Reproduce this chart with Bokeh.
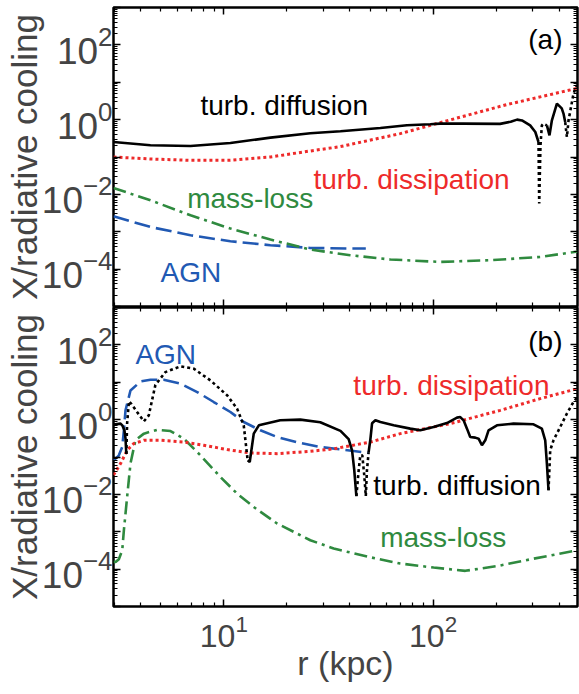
import numpy as np
from bokeh.plotting import figure
from bokeh.layouts import column
from bokeh.models import FixedTicker, LogAxis, ColumnDataSource, Range1d
from bokeh.core.properties import value
from bokeh.embed import file_html
from bokeh.resources import INLINE

FONT = "Liberation Sans"
RED = "#ee2a2a"
GREEN = "#2f8a3f"
BLUE = "#2159b3"

X_RANGE = (2.97, 490.0)
Y_RANGE = (1e-5, 1e3)

# ---------------- panel (a) ----------------
# turbulent diffusion: negative values are drawn dotted as |value|
a_diff_r = [2.97, 4.46, 6.93, 10.75, 16.7, 25.9, 36.1, 56.0, 75.0, 97.0, 108, 139, 209,
            235, 252, 266, 291, 308, 319, 321.5, 326, 331, 337, 350, 360, 369.7, 390.6,
            412, 420, 428, 436, 444, 469, 487]
a_diff_v = [0.252, 0.206, 0.197, 0.237, 0.330, 0.430, 0.487, 0.596, 0.704, 0.749, 0.782,
            0.782, 0.77, 0.88, 1.0, 0.95, 0.70, 0.466, 0.252, -0.0057, -0.2, -0.70, -0.78,
            -0.70, 0.38, 0.958, 2.68, 2.0, 1.45, 0.86, -0.343, -0.958, -4.96, -8.5]
a_diss_r = [2.97, 4.46, 6.93, 10.75, 16.7, 25.9, 36.1, 69.7, 108, 225, 490]
a_diss_v = [0.1, 0.0885, 0.0816, 0.0816, 0.1, 0.145, 0.19, 0.422, 0.831, 2.52, 6.9]
a_mass_r = [2.97, 4.46, 6.93, 10.75, 16.7, 25.9, 40.2, 62.5, 108, 188, 325, 490]
a_mass_v = [0.0148, 0.00695, 0.00276, 0.00122, 6.19e-4, 3.34e-4, 2.35e-4, 1.81e-4,
            1.56e-4, 1.73e-4, 2.12e-4, 2.95e-4]
a_agn_r = [2.97, 4.46, 6.93, 10.75, 16.7, 25.9, 40.2, 47.7]
a_agn_v = [0.0026, 0.00134, 8.05e-4, 5.57e-4, 4.36e-4, 3.69e-4, 3.56e-4, 3.56e-4]

a_note_text = ["turb. diffusion", "turb. dissipation", "mass-loss", "AGN", "(a)"]
a_note_r = [7.73, 26.8, 6.68, 4.98, 285.0]
a_note_v = [2.41, 0.0254, 0.00754, 8.3e-5, 136.0]
a_note_color = ["black", RED, GREEN, BLUE, "black"]

# ---------------- panel (b) ----------------
b_diff_r = [2.97, 3.21, 3.27, 3.35, 3.39, 3.42, 3.45, 3.52, 3.62, 3.85, 4.15, 4.38, 4.46,
            4.71, 5.26, 6.20, 7.18, 8.63, 10.37, 11.57, 12.45, 13.0, 13.3, 13.9, 14.7,
            18.6, 23.2, 28.9, 36.1, 39.5, 41.0, 42.0, 43.0, 44.1, 44.9, 45.9, 46.9, 47.7,
            48.3, 49.2, 50.1, 51.1, 53.0, 56.0, 64.8, 77.8, 86.9, 100.6, 116.5, 130.1,
            134.9, 139.9, 145.2, 150.5, 159.1, 165.0, 171.2, 177.6, 184.1, 202.0, 242.3,
            302.0, 331.0, 343.5, 349.9, 356.2, 362.9, 376.3, 405.0, 435.9, 468.8, 490.0]
b_diff_v = [0.735, 0.782, 0.704, 0.518, 0.31, 0.12, -0.8, -3.1, -2.6, -1.6, -0.9, -1.3,
            -2.1, -8.5, -18.7, -26.6, -23.1, -11.2, -4.47, -1.97, -0.704, -0.0816, 0.0735,
            0.422, 0.704, 0.958, 1.0, 0.85, 0.5, 0.3, 0.15, 0.045, 0.009, -0.044, -0.111,
            -0.111, -0.0324, -0.009, -0.044, -0.134, 0.28, 0.796, 0.958, 0.863, 0.704,
            0.574, 0.518, 0.634, 0.811, 1.13, 1.17, 0.958, 0.574, 0.343, 0.33, 0.31, 0.206,
            0.28, 0.518, 0.704, 0.782, 0.749, 0.574, 0.28, 0.0667, 0.0129, -0.151, -0.28,
            -0.634, -1.45, -2.96, -4.02]
b_diss_r = [2.97, 3.21, 3.45, 3.71, 4.15, 4.98, 6.44, 8.02, 10.37, 13.4, 17.97, 25.9,
            33.5, 40.2, 50.1, 69.7, 120.8, 209.4, 325.0, 490.0]
b_diss_v = [0.033, 0.0667, 0.151, 0.228, 0.28, 0.28, 0.252, 0.206, 0.158, 0.128, 0.123,
            0.142, 0.165, 0.2, 0.25, 0.422, 0.782, 1.77, 3.64, 6.74]
b_mass_r = [2.97, 3.04, 3.15, 3.27, 3.33, 3.45, 3.58, 3.78, 4.15, 4.80, 5.56, 6.44, 7.73,
            9.63, 11.57, 13.9, 17.97, 22.4, 25.9, 33.5, 49.2, 69.7, 100.6, 142.5, 209.4,
            302.0, 490.0]
b_mass_v = [1.56e-4, 1.56e-4, 1.84e-4, 3.2e-4, 1.1e-3, 8.5e-3, 0.0667, 0.28, 0.422,
            0.534, 0.496, 0.31, 0.111, 0.0292, 0.0105, 0.0046, 0.00166, 8.95e-4, 5.93e-4,
            3.56e-4, 2.12e-4, 1.41e-4, 1.1e-4, 9.0e-5, 1.25e-4, 1.9e-4, 3.2e-4]
b_agn_r = [2.97, 3.09, 3.15, 3.27, 3.33, 3.39, 3.58, 4.0, 4.46, 5.16, 6.20, 7.46, 8.95,
           10.75, 12.45, 14.95, 17.97, 22.4, 28.9, 36.1, 41.7, 49.2]
b_agn_v = [0.0816, 0.098, 0.111, 0.185, 0.518, 1.77, 6.0, 10.5, 11.7, 11.7, 9.18, 5.47,
           2.96, 1.6, 0.863, 0.518, 0.343, 0.247, 0.185, 0.16, 0.145, 0.128]

b_note_text = ["AGN", "(b)", "turb. dissipation", "turb. diffusion", "mass-loss"]
b_note_r = [3.78, 285.0, 41.6, 51.8, 55.9]
b_note_v = [56.9, 120.5, 8.28, 0.0172, 7.15e-4]
b_note_color = [BLUE, "black", RED, "black", GREEN]

# ---------------- ticks ----------------
y_decades = [10.0 ** k for k in range(-5, 4)]
y_minor = [m * 10.0 ** k for k in range(-5, 3) for m in range(2, 10)]
y_labeled = [1e-4, 1e-2, 1.0, 1e2]
x_major = [10.0, 100.0]
x_minor = [m * 10.0 ** k for k in range(0, 3) for m in range(2, 10)]


def split_runs(r, v):
    """Split a signed series into runs of equal sign; each run starts at the
    last point of the previous run so the curve stays connected."""
    r = np.asarray(r, float)
    v = np.asarray(v, float)
    pos, neg = [], []
    start = 0
    for i in range(1, len(v) + 1):
        if i == len(v) or (v[i] > 0) != (v[start] > 0):
            s = max(start - 1, 0)
            seg = (list(r[s:i]), list(np.abs(v[s:i])))
            (pos if v[start] > 0 else neg).append(seg)
            start = i
    return pos, neg


def style_axis(ax, ticker, show):
    ax.ticker = ticker
    ax.axis_line_color = None
    ax.major_tick_in = 7
    ax.major_tick_out = 0
    ax.minor_tick_in = 4
    ax.minor_tick_out = 0
    ax.major_tick_line_color = "black"
    ax.major_tick_line_width = 1.5
    ax.minor_tick_line_color = "black"
    ax.minor_tick_line_width = 1.2
    if not show:
        ax.major_label_text_color = None
        ax.major_label_text_font_size = "1px"
        ax.major_label_standoff = 0
        ax.axis_label = None


def make_panel(height, top, bottom, show_x):
    p = figure(width=579, height=height, x_axis_type="log", y_axis_type="log",
               x_range=Range1d(*X_RANGE), y_range=Range1d(*Y_RANGE),
               output_backend="svg", toolbar_location=None,
               min_border_left=113, min_border_right=2,
               min_border_top=top, min_border_bottom=bottom)
    p.add_layout(LogAxis(), "right")
    p.add_layout(LogAxis(), "above")
    p.grid.visible = False
    p.outline_line_color = "black"
    p.outline_line_width = 2.5
    p.background_fill_color = "white"
    p.border_fill_color = "white"

    left, right = p.left[0], p.right[0]
    below, above = p.below[0], p.above[0]

    style_axis(left, FixedTicker(ticks=y_decades, minor_ticks=y_minor), True)
    left.major_label_overrides = {t: "" for t in y_decades if t not in y_labeled}
    left.major_label_text_font = FONT
    left.major_label_text_font_size = "37px"
    left.major_label_standoff = 1
    left.axis_label = "X/radiative cooling"
    left.axis_label_text_font = FONT
    left.axis_label_text_font_size = "35px"
    left.axis_label_text_font_style = "normal"
    left.axis_label_standoff = -5

    style_axis(right, FixedTicker(ticks=y_decades, minor_ticks=y_minor), False)
    style_axis(above, FixedTicker(ticks=x_major, minor_ticks=x_minor), False)
    style_axis(below, FixedTicker(ticks=x_major, minor_ticks=x_minor), show_x)
    if show_x:
        below.major_label_text_font = FONT
        below.major_label_text_font_size = "32px"
        below.major_label_standoff = 8
        below.axis_label = "r (kpc)"
        below.axis_label_text_font = FONT
        below.axis_label_text_font_size = "34px"
        below.axis_label_text_font_style = "normal"
        below.axis_label_standoff = -6
    return p


def draw(p, diff_r, diff_v, diss_r, diss_v, mass_r, mass_v, agn_r, agn_v,
         note_r, note_v, note_text, note_color):
    p.line(agn_r, agn_v, line_color=BLUE, line_width=2.6, line_dash="16 6")
    p.line(mass_r, mass_v, line_color=GREEN, line_width=2.6, line_dash="13 5 3 5")
    p.line(diss_r, diss_v, line_color=RED, line_width=3, line_dash="3 3")
    pos, neg = split_runs(diff_r, diff_v)
    p.multi_line([s[0] for s in neg], [s[1] for s in neg], line_color="black",
                 line_width=2.6, line_dash="3 3")
    p.multi_line([s[0] for s in pos], [s[1] for s in pos], line_color="black",
                 line_width=2.6)
    src = ColumnDataSource(dict(x=note_r, y=note_v, text=note_text, color=note_color))
    p.text(x="x", y="y", text="text", text_color="color", source=src,
           text_font=value(FONT), text_font_size="28px",
           text_align="left", text_baseline="alphabetic")


p1 = make_panel(307, 7, 1, False)
draw(p1, a_diff_r, a_diff_v, a_diss_r, a_diss_v, a_mass_r, a_mass_v, a_agn_r, a_agn_v,
     a_note_r, a_note_v, a_note_text, a_note_color)

p2 = make_panel(387, 0, 88, True)
draw(p2, b_diff_r, b_diff_v, b_diss_r, b_diss_v, b_mass_r, b_mass_v, b_agn_r, b_agn_v,
     b_note_r, b_note_v, b_note_text, b_note_color)

layout = column(p1, p2, spacing=0)
open("out.html", "w").write(file_html(layout, INLINE))
